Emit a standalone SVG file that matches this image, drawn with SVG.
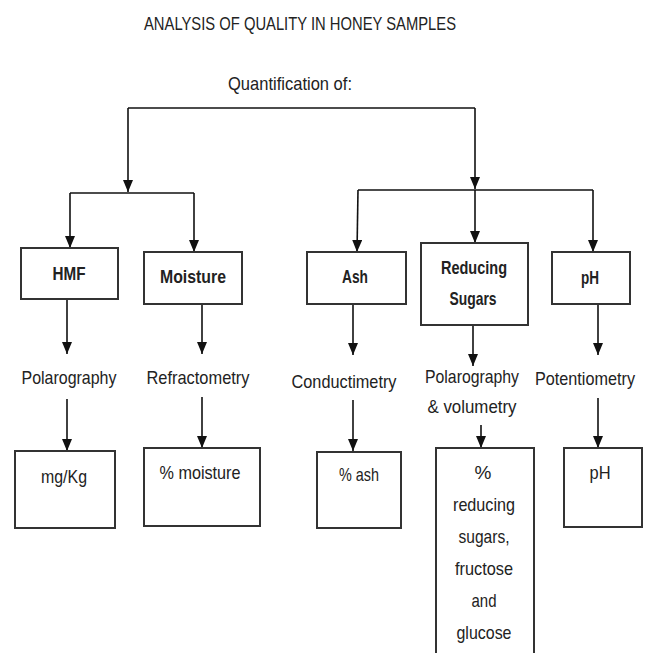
<svg xmlns="http://www.w3.org/2000/svg" width="646" height="653" viewBox="0 0 646 653">
<defs>
<marker id="arr" markerUnits="userSpaceOnUse" markerWidth="12" markerHeight="10" refX="12" refY="5" orient="auto">
<path d="M0,0 L12,5 L0,10 z" fill="#111"/>
</marker>
<style>
text{font-family:"Liberation Sans",Arial,sans-serif;font-size:19px;fill:#222;text-anchor:middle}
.b{font-weight:bold}
.box{fill:#fff;stroke:#333;stroke-width:2}
.c{fill:none;stroke:#111;stroke-width:1.6}
.a{marker-end:url(#arr)}
</style>
</defs>
<rect width="646" height="653" fill="#fff"/>
<g id="title">
<text x="300" y="30" font-size="18" textLength="312" lengthAdjust="spacingAndGlyphs">ANALYSIS OF QUALITY IN HONEY SAMPLES</text>
</g>
<g id="quant">
<text x="290" y="90" textLength="124" lengthAdjust="spacingAndGlyphs">Quantification of:</text>
</g>
<g id="connectors">
<path class="c" d="M128,108 H475"/>
<path class="c a" d="M128,108 V192"/>
<path class="c a" d="M475,108 V189"/>
<path class="c" d="M70,193 H194"/>
<path class="c a" d="M70,193 V248"/>
<path class="c a" d="M194,193 V252"/>
<path class="c" d="M358,190 H593"/>
<path class="c a" d="M358,190 L357,252"/>
<path class="c a" d="M475,190 V243"/>
<path class="c a" d="M593,190 V252"/>
<path class="c a" d="M67,300 V354"/>
<path class="c a" d="M202,305 V354"/>
<path class="c a" d="M353,305 V355"/>
<path class="c a" d="M473,326 V366"/>
<path class="c a" d="M598,305 V355"/>
<path class="c a" d="M67,399 V451"/>
<path class="c a" d="M202,397 V448"/>
<path class="c a" d="M353,400 V451"/>
<path class="c a" d="M481,425 V448"/>
<path class="c a" d="M598,398 V448"/>
</g>
<g id="hmf">
<rect class="box" x="21" y="248" width="97" height="51"/>
<text class="b" x="69" y="280" textLength="33" lengthAdjust="spacingAndGlyphs">HMF</text>
</g>
<g id="moisture">
<rect class="box" x="144" y="252" width="98" height="52"/>
<text class="b" x="193" y="283" textLength="66" lengthAdjust="spacingAndGlyphs">Moisture</text>
</g>
<g id="ash">
<rect class="box" x="307" y="252" width="99" height="52"/>
<text class="b" x="355" y="283" textLength="26" lengthAdjust="spacingAndGlyphs">Ash</text>
</g>
<g id="reducing-sugars">
<rect class="box" x="421" y="243" width="107" height="82"/>
<text class="b" x="474" y="274" textLength="66" lengthAdjust="spacingAndGlyphs">Reducing</text>
<text class="b" x="473" y="305" textLength="47" lengthAdjust="spacingAndGlyphs">Sugars</text>
</g>
<g id="ph">
<rect class="box" x="552" y="252" width="78" height="52"/>
<text class="b" x="590" y="284" textLength="18" lengthAdjust="spacingAndGlyphs">pH</text>
</g>
<g id="polarography">
<text x="69" y="384" textLength="95" lengthAdjust="spacingAndGlyphs">Polarography</text>
</g>
<g id="refractometry">
<text x="198" y="384" textLength="103" lengthAdjust="spacingAndGlyphs">Refractometry</text>
</g>
<g id="conductimetry">
<text x="344" y="388" textLength="105" lengthAdjust="spacingAndGlyphs">Conductimetry</text>
</g>
<g id="polarography-volumetry">
<text x="472" y="383" textLength="94" lengthAdjust="spacingAndGlyphs">Polarography</text>
<text x="472" y="413" textLength="89" lengthAdjust="spacingAndGlyphs">&amp; volumetry</text>
</g>
<g id="potentiometry">
<text x="585" y="385" font-size="17" textLength="100" lengthAdjust="spacingAndGlyphs">Potentiometry</text>
</g>
<g id="mgkg">
<rect class="box" x="15" y="451" width="100" height="77"/>
<text x="64" y="483" textLength="46" lengthAdjust="spacingAndGlyphs">mg/Kg</text>
</g>
<g id="pct-moisture">
<rect class="box" x="144" y="448" width="116" height="78"/>
<text x="200" y="479" textLength="81" lengthAdjust="spacingAndGlyphs">% moisture</text>
</g>
<g id="pct-ash">
<rect class="box" x="317" y="452" width="84" height="76"/>
<text x="359" y="481" textLength="40" lengthAdjust="spacingAndGlyphs">% ash</text>
</g>
<g id="pct-sugars">
<rect class="box" x="436" y="448" width="98" height="215"/>
<text x="483" y="479">%</text>
<text x="484" y="511" textLength="62" lengthAdjust="spacingAndGlyphs">reducing</text>
<text x="484" y="543" textLength="51" lengthAdjust="spacingAndGlyphs">sugars,</text>
<text x="484" y="575" textLength="58" lengthAdjust="spacingAndGlyphs">fructose</text>
<text x="484" y="607" textLength="25" lengthAdjust="spacingAndGlyphs">and</text>
<text x="484" y="639" textLength="55" lengthAdjust="spacingAndGlyphs">glucose</text>
</g>
<g id="ph-result">
<rect class="box" x="564" y="448" width="78" height="79"/>
<text x="600" y="479" textLength="21" lengthAdjust="spacingAndGlyphs">pH</text>
</g>
</svg>
